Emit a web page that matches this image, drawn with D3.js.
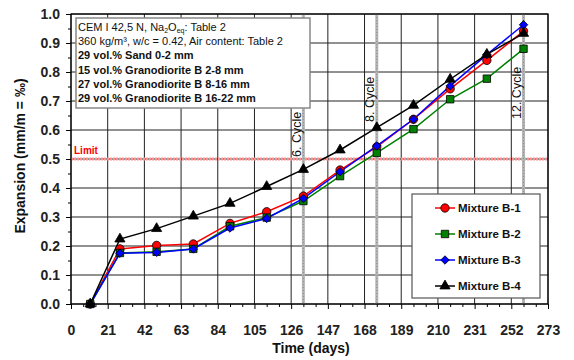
<!DOCTYPE html>
<html>
<head>
<meta charset="utf-8">
<script src="https://cdn.jsdelivr.net/npm/d3@7"></script>
<style>
  body { margin: 0; background: #fff; }
  svg { font-family: "Liberation Sans", Arial, sans-serif; }
</style>
</head>
<body>
<svg id="chart" width="574" height="360"></svg>
<script>
const days = [11, 28, 49, 70, 91, 112, 133, 154, 175, 196, 217, 238, 259];
const mixB1 = [0, 0.190, 0.202, 0.207, 0.278, 0.318, 0.372, 0.462, 0.542, 0.637, 0.742, 0.840, 0.941];
const mixB2 = [0, 0.176, 0.180, 0.190, 0.268, 0.298, 0.355, 0.441, 0.521, 0.603, 0.706, 0.777, 0.880];
const mixB3 = [0, 0.175, 0.178, 0.190, 0.262, 0.295, 0.364, 0.456, 0.545, 0.637, 0.752, 0.860, 0.963];
const mixB4 = [0, 0.224, 0.260, 0.303, 0.347, 0.405, 0.464, 0.531, 0.608, 0.685, 0.775, 0.861, 0.933];
const seriesNames = ['Mixture B-1', 'Mixture B-2', 'Mixture B-3', 'Mixture B-4'];
const xTicks = [0, 21, 42, 63, 84, 105, 126, 147, 168, 189, 210, 231, 252, 273];
const yTicks = [0, 0.1, 0.2, 0.3, 0.4, 0.5, 0.6, 0.7, 0.8, 0.9, 1.0];
const cycles = [{ day: 133, label: '6. Cycle' }, { day: 175, label: '8. Cycle' }, { day: 259, label: '12. Cycle' }];
const limit = 0.5;

const diamond = {
  draw(ctx, size) {
    const r = Math.sqrt(size / 2);
    ctx.moveTo(0, -r); ctx.lineTo(r, 0); ctx.lineTo(0, r); ctx.lineTo(-r, 0); ctx.closePath();
  }
};

const series = [
  { name: seriesNames[0], values: mixB1, color: '#ff0000', fill: '#ff0000', symbol: d3.symbolCircle, size: 55 },
  { name: seriesNames[1], values: mixB2, color: '#008000', fill: '#008000', symbol: d3.symbolSquare, size: 55 },
  { name: seriesNames[2], values: mixB3, color: '#0000ff', fill: '#0000ff', symbol: diamond, size: 36 },
  { name: seriesNames[3], values: mixB4, color: '#000000', fill: '#000000', symbol: d3.symbolTriangle, size: 45 }
];

const margin = { left: 71, top: 14, right: 26, bottom: 56 };
const W = 574, H = 360;
const iw = W - margin.left - margin.right;
const ih = H - margin.top - margin.bottom;

const svg = d3.select('#chart');
const g = svg.append('g').attr('transform', `translate(${margin.left},${margin.top})`);

const x = d3.scaleLinear().domain([0, 273]).range([0, iw]);
const y = d3.scaleLinear().domain([0, 1]).range([ih, 0]);

// grid
g.append('g').selectAll('line').data(xTicks).join('line')
  .attr('x1', d => x(d)).attr('x2', d => x(d)).attr('y1', 0).attr('y2', ih)
  .attr('stroke', '#222').attr('stroke-width', 1);
g.append('g').selectAll('line').data(yTicks).join('line')
  .attr('x1', 0).attr('x2', iw).attr('y1', d => y(d)).attr('y2', d => y(d))
  .attr('stroke', '#222').attr('stroke-width', 1);

// limit line
g.append('line')
  .attr('x1', 0).attr('x2', iw).attr('y1', y(limit)).attr('y2', y(limit))
  .attr('stroke', '#ff9090').attr('stroke-width', 3).attr('stroke-dasharray', '2,1');
g.append('text').attr('x', 3).attr('y', y(limit) - 5)
  .attr('fill', '#ff0000').attr('font-size', 10).attr('font-weight', 'bold').text('Limit');

// cycle lines
cycles.forEach(c => {
  g.append('line')
    .attr('x1', x(c.day)).attr('x2', x(c.day)).attr('y1', 0).attr('y2', ih)
    .attr('stroke', '#b4b4b4').attr('stroke-width', 3);
  g.append('line')
    .attr('x1', x(c.day)).attr('x2', x(c.day)).attr('y1', 0).attr('y2', ih)
    .attr('stroke', '#909090').attr('stroke-width', 1).attr('stroke-dasharray', '1,2');
});

// axes
const xAxis = d3.axisBottom(x).tickValues(xTicks).tickSize(5).tickPadding(16);
const gx = g.append('g').attr('transform', `translate(0,${ih})`).call(xAxis);
gx.selectAll('text').attr('font-size', 14).attr('font-weight', 'bold').attr('fill', '#222')
  .attr('font-family', '"Liberation Sans", Arial, sans-serif');
gx.select('.domain').remove();
g.append('g').attr('transform', `translate(0,${ih})`)
  .call(d3.axisBottom(x).tickValues(d3.range(7, 273, 7).filter(d => d % 21 !== 0)).tickSize(3).tickFormat(''))
  .select('.domain').remove();

const yAxis = d3.axisLeft(y).tickValues(yTicks).tickSize(5).tickPadding(6).tickFormat(d3.format('.1f'));
const gy = g.append('g').call(yAxis);
gy.selectAll('text').attr('font-size', 14).attr('font-weight', 'bold').attr('fill', '#222')
  .attr('font-family', '"Liberation Sans", Arial, sans-serif');
gy.select('.domain').remove();
g.append('g')
  .call(d3.axisLeft(y).tickValues(d3.range(0.05, 1, 0.1)).tickSize(3).tickFormat(''))
  .select('.domain').remove();

// frame
g.append('rect').attr('width', iw).attr('height', ih)
  .attr('fill', 'none').attr('stroke', '#000').attr('stroke-width', 1.2);

// cycle labels
const labelBottom = { 133: 143, 175: 108, 259: 105 };
cycles.forEach(c => {
  g.append('text')
    .attr('transform', `translate(${x(c.day) - 2.5},${labelBottom[c.day]}) rotate(-90)`)
    .attr('font-size', 12.5).attr('fill', '#111').text(c.label);
});

// lines + markers
const line = d3.line().x((d, i) => x(days[i])).y(d => y(d));
series.forEach(s => {
  g.append('path').datum(s.values).attr('d', line)
    .attr('fill', 'none').attr('stroke', s.color).attr('stroke-width', 1.5);
});
series.forEach(s => {
  g.append('g').selectAll('path').data(s.values).join('path')
    .attr('transform', (d, i) => `translate(${x(days[i])},${y(d)})`)
    .attr('d', d3.symbol().type(s.symbol).size(s.size))
    .attr('fill', s.fill).attr('stroke', '#000').attr('stroke-width', 0.8);
});

// info box
const info = g.append('g').attr('transform', 'translate(5,4)');
info.append('rect').attr('width', 234).attr('height', 90)
  .attr('fill', '#fff').attr('stroke', '#888').attr('stroke-width', 1.5);
const infoLines = [
  { bold: false, parts: [['CEM I 42,5 N, Na', ''], ['2', 'sub'], ['O', ''], ['eq', 'sub'], [': Table 2', '']] },
  { bold: false, parts: [['360 kg/m³, w/c = 0.42, Air content: Table 2', '']] },
  { bold: true, parts: [['29 vol.% Sand 0-2 mm', '']] },
  { bold: true, parts: [['15 vol.% Granodiorite B 2-8 mm', '']] },
  { bold: true, parts: [['27 vol.% Granodiorite B 8-16 mm', '']] },
  { bold: true, parts: [['29 vol.% Granodiorite B 16-22 mm', '']] }
];
infoLines.forEach((l, i) => {
  const t = info.append('text').attr('x', 2).attr('y', 13 + i * 14.2)
    .attr('font-size', 11).attr('font-weight', l.bold ? 'bold' : 'normal').attr('fill', '#111');
  l.parts.forEach(p => {
    const ts = t.append('tspan').text(p[0]);
    if (p[1] === 'sub') ts.attr('font-size', 7).attr('dy', 2);
    else if (t.selectAll('tspan').size() > 1) ts.attr('dy', -2);
  });
});

// legend
const lg = g.append('g').attr('transform', `translate(${412 - margin.left},${194 - margin.top})`);
lg.append('rect').attr('width', 128).attr('height', 104)
  .attr('fill', '#fff').attr('stroke', '#555').attr('stroke-width', 1.2);
series.forEach((s, i) => {
  const row = lg.append('g').attr('transform', `translate(0,${14 + i * 26})`);
  row.append('line').attr('x1', 23).attr('x2', 43).attr('stroke', s.color).attr('stroke-width', 1.5);
  row.append('path').attr('transform', 'translate(33,0)')
    .attr('d', d3.symbol().type(s.symbol).size(s.size))
    .attr('fill', s.fill).attr('stroke', '#000').attr('stroke-width', 0.8);
  row.append('text').attr('x', 46).attr('y', 4).attr('font-size', 11.5).attr('font-weight', 'bold')
    .attr('fill', '#111').text(s.name);
});

// axis titles
svg.append('text').attr('x', 311).attr('y', 353).attr('text-anchor', 'middle')
  .attr('font-size', 14).attr('font-weight', 'bold').attr('fill', '#111').text('Time (days)');
svg.append('text').attr('transform', 'translate(25,156) rotate(-90)').attr('text-anchor', 'middle')
  .attr('font-size', 14).attr('font-weight', 'bold').attr('fill', '#111').text('Expansion (mm/m = ‰)');
</script>
</body>
</html>
